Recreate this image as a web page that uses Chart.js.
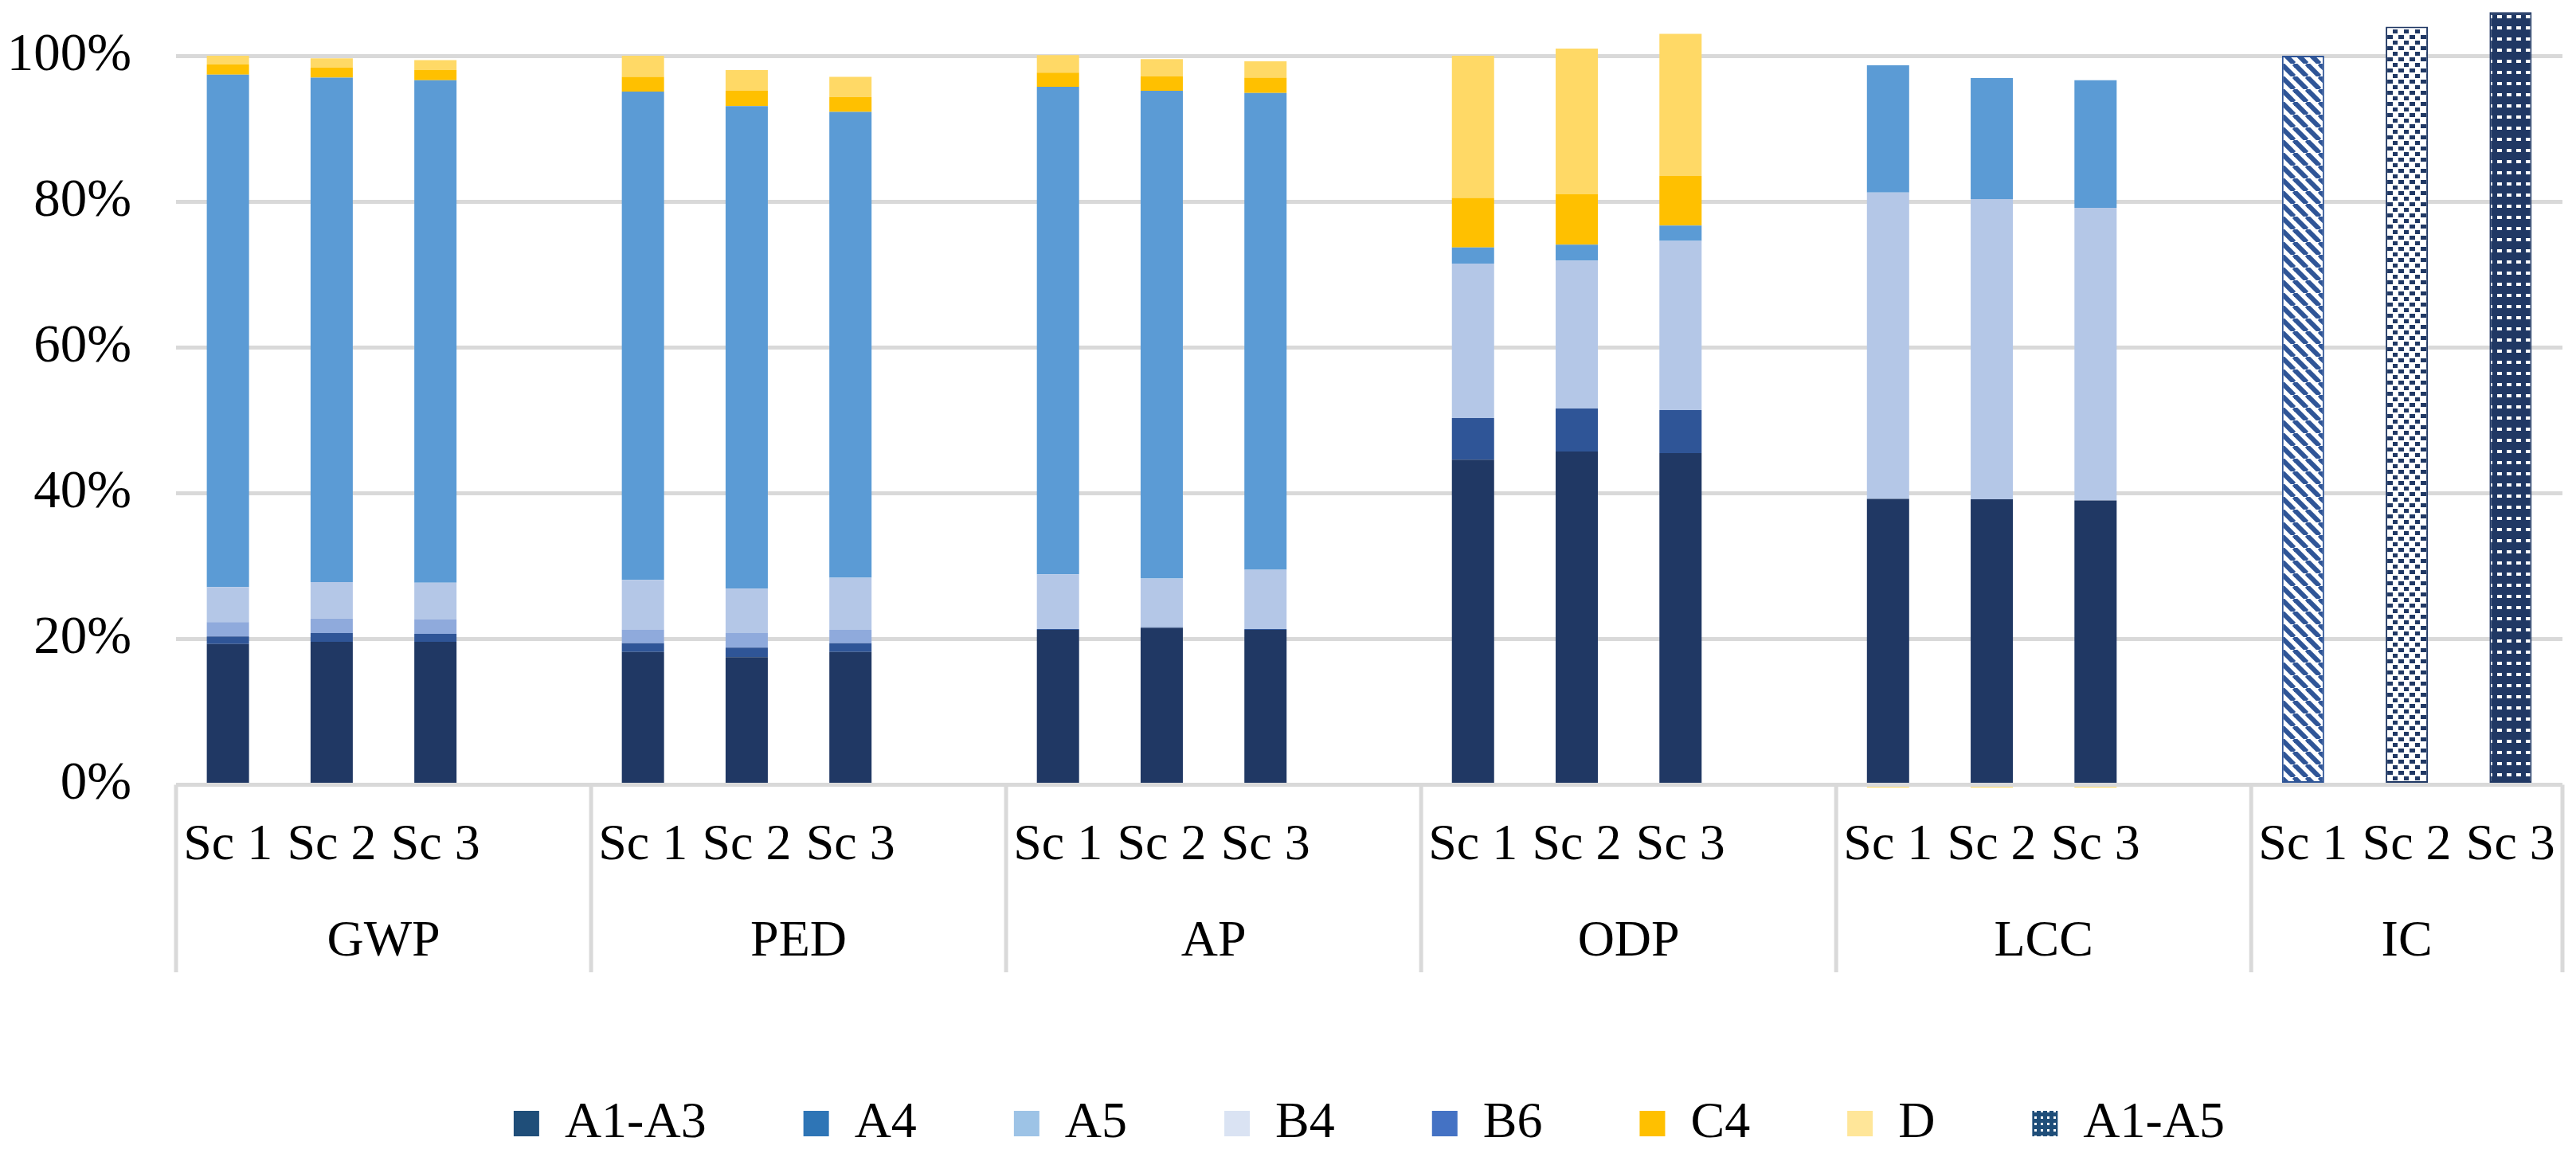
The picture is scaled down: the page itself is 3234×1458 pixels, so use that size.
<!DOCTYPE html>
<html>
<head>
<meta charset="utf-8">
<script src="https://cdn.jsdelivr.net/npm/chart.js@4.4.0/dist/chart.umd.min.js"></script>
<style>
  html, body { margin: 0; padding: 0; background: #fff; }
  #wrap { width: 3234px; height: 1458px; position: relative; }
</style>
</head>
<body>
<div id="wrap"><canvas id="chart"></canvas></div>
<script>
// impact categories and scenarios
var groups = ['GWP', 'PED', 'AP', 'ODP', 'LCC', 'IC'];
var scenarios = ['Sc 1', 'Sc 2', 'Sc 3'];

// shares, 3 values (Sc 1..3) per group in the order of `groups`
var a1a3 = [0.193, 0.196, 0.196, 0.182, 0.175, 0.182, 0.2125, 0.215, 0.2125, 0.446, 0.457, 0.455, 0.392, 0.3915, 0.39, null, null, null];
var a4 = [0.0105, 0.012, 0.011, 0.012, 0.013, 0.012, 0.001, 0.001, 0.001, 0.057, 0.059, 0.059, 0, 0, 0, null, null, null];
var a5 = [0.0195, 0.02, 0.0195, 0.019, 0.02, 0.0185, 0, 0, 0, 0, 0, 0, 0, 0, 0, null, null, null];
var b4 = [0.048, 0.05, 0.0505, 0.068, 0.061, 0.0715, 0.075, 0.067, 0.0815, 0.212, 0.203, 0.232, 0.4205, 0.412, 0.4015, null, null, null];
var b6 = [0.703, 0.692, 0.6895, 0.67, 0.662, 0.639, 0.669, 0.669, 0.654, 0.022, 0.022, 0.021, 0.1745, 0.166, 0.175, null, null, null];
var c4 = [0.014, 0.014, 0.014, 0.02, 0.021, 0.0205, 0.0195, 0.02, 0.021, 0.068, 0.069, 0.068, 0, 0, 0, null, null, null];
var d = [0.012, 0.0125, 0.0135, 0.029, 0.0285, 0.0275, 0.024, 0.0235, 0.0225, 0.195, 0.2, 0.195, -0.004, -0.004, -0.004, null, null, null];
var a1a5 = [null, null, null, null, null, null, null, null, null, null, null, null, null, null, null, 1.0, 1.04, 1.06];

var seriesNames = ['A1-A3', 'A4', 'A5', 'B4', 'B6', 'C4', 'D', 'A1-A5'];
var barColors = ['#203864', '#2f5597', '#8faadc', '#b4c7e7', '#5b9bd5', '#ffc000', '#ffd966'];
var legendColors = ['#1f4e79', '#2e75b6', '#9dc3e6', '#dae3f3', '#4472c4', '#ffc000', '#ffe699'];

// each group gets an empty slot after it, except the last one
var groupStart = [];
var groupSize = [];
function toSlots(vals) {
  var out = [];
  groups.forEach(function (g, gi) {
    for (var s = 0; s < scenarios.length; s++) out.push(vals[gi * scenarios.length + s]);
    if (gi < groups.length - 1) out.push(null);
  });
  return out;
}
var slotLabels = [];
groups.forEach(function (g, gi) {
  groupStart.push(slotLabels.length);
  scenarios.forEach(function (s) { slotLabels.push(s); });
  if (gi < groups.length - 1) slotLabels.push('');
  groupSize.push(slotLabels.length - groupStart[gi]);
});

function makePattern(w, h, draw) {
  var c = document.createElement('canvas');
  c.width = w; c.height = h;
  var g = c.getContext('2d');
  draw(g, w, h);
  return g.createPattern(c, 'repeat');
}

// IC fills: downward diagonal, small dashes, dark with white dashes
var diag = makePattern(16, 16, function (g, w, h) {
  g.fillStyle = '#fff'; g.fillRect(0, 0, w, h);
  g.strokeStyle = '#2f5597'; g.lineWidth = 6;
  for (var k = -1; k <= 1; k++) {
    g.beginPath(); g.moveTo(k * w, 0); g.lineTo(k * w + w, h); g.stroke();
  }
});
var dashes = makePattern(14, 14, function (g, w, h) {
  g.fillStyle = '#fff'; g.fillRect(0, 0, w, h);
  g.fillStyle = '#203864';
  g.fillRect(1, 2, 7, 5); g.fillRect(8, 9, 6, 5);
});
var darkDashes = makePattern(12, 14, function (g, w, h) {
  g.fillStyle = '#203864'; g.fillRect(0, 0, w, h);
  g.fillStyle = '#fff';
  g.fillRect(3, 5, 6, 4);
});
var legendDots = makePattern(8, 8, function (g, w, h) {
  g.fillStyle = '#1f4e79'; g.fillRect(0, 0, w, h);
  g.fillStyle = '#fff';
  g.fillRect(2, 2, 3, 3);
});
legendColors.push(legendDots);

var stackSeries = [a1a3, a4, a5, b4, b6, c4, d];
var datasets = stackSeries.map(function (vals, i) {
  return {
    label: seriesNames[i],
    data: toSlots(vals),
    backgroundColor: barColors[i],
    borderWidth: 0
  };
});
var icFills = [diag, dashes, darkDashes];
var icBorders = ['#2f5597', '#203864', '#203864'];
datasets.push({
  label: seriesNames[7],
  data: toSlots(a1a5),
  backgroundColor: toSlots(a1a5).map(function (v, i) { return icFills[(i - groupStart[5]) % 3] || '#fff'; }),
  borderColor: toSlots(a1a5).map(function (v, i) { return icBorders[(i - groupStart[5]) % 3] || '#fff'; }),
  borderWidth: 2,
  borderSkipped: false
});

// second category row: group names and separators
var groupAxis = {
  id: 'groupAxis',
  afterDraw: function (chart) {
    var x = chart.scales.x, y = chart.scales.y, ctx = chart.ctx;
    var half = (x.getPixelForValue(1) - x.getPixelForValue(0)) / 2;
    var y0 = y.getPixelForValue(0);
    var yEnd = x.top + 231;
    ctx.save();
    ctx.strokeStyle = '#d9d9d9';
    ctx.lineWidth = 5;
    ctx.fillStyle = '#000';
    ctx.font = '64px "Liberation Serif", "Times New Roman", serif';
    ctx.textAlign = 'center';
    ctx.textBaseline = 'middle';
    groups.forEach(function (g, gi) {
      var left = x.getPixelForValue(groupStart[gi]) - half;
      var right = x.getPixelForValue(groupStart[gi] + groupSize[gi] - 1) + half;
      ctx.beginPath(); ctx.moveTo(left, y0); ctx.lineTo(left, yEnd); ctx.stroke();
      if (gi === groups.length - 1) {
        ctx.beginPath(); ctx.moveTo(right, y0); ctx.lineTo(right, yEnd); ctx.stroke();
      }
      ctx.fillText(g, (left + right) / 2, x.top + 193);
    });
    ctx.restore();
  }
};

Chart.defaults.font.family = '"Liberation Serif", "Times New Roman", serif';

new Chart(document.getElementById('chart'), {
  type: 'bar',
  data: { labels: slotLabels, datasets: datasets },
  options: {
    responsive: true,
    maintainAspectRatio: false,
    devicePixelRatio: 1,
    animation: false,
    layout: { padding: { top: 6, right: 17, bottom: 5, left: 0 } },
    datasets: { bar: { categoryPercentage: 1, barPercentage: 0.407 } },
    scales: {
      x: {
        stacked: true,
        grid: { display: false, drawTicks: false },
        border: { display: false },
        ticks: { autoSkip: false, maxRotation: 0, minRotation: 0, padding: 34, color: '#000', font: { size: 64 } },
        afterFit: function (s) { s.height = 267; s.paddingLeft = 0; s.paddingRight = 0; }
      },
      y: {
        stacked: true,
        min: -0.005,
        max: 1.07,
        border: { display: false },
        grid: { color: '#d9d9d9', lineWidth: 5, drawTicks: false },
        ticks: {
          stepSize: 0.2,
          includeBounds: false,
          padding: 56,
          color: '#000',
          font: { size: 67 },
          callback: function (v) { return Math.round(v * 100) + '%'; }
        },
        afterFit: function (s) { s.width = 221; s.paddingTop = 0; s.paddingBottom = 0; }
      }
    },
    plugins: {
      tooltip: { enabled: false },
      legend: {
        position: 'bottom',
        fullSize: false,
        labels: {
          boxWidth: 32,
          boxHeight: 32,
          padding: 122,
          color: '#000',
          font: { size: 64 },
          generateLabels: function (chart) {
            return chart.data.datasets.map(function (ds, i) {
              return { text: ds.label, fillStyle: legendColors[i], strokeStyle: legendColors[i], lineWidth: 0, hidden: false, datasetIndex: i };
            });
          }
        }
      }
    }
  },
  plugins: [groupAxis]
});
</script>
</body>
</html>
